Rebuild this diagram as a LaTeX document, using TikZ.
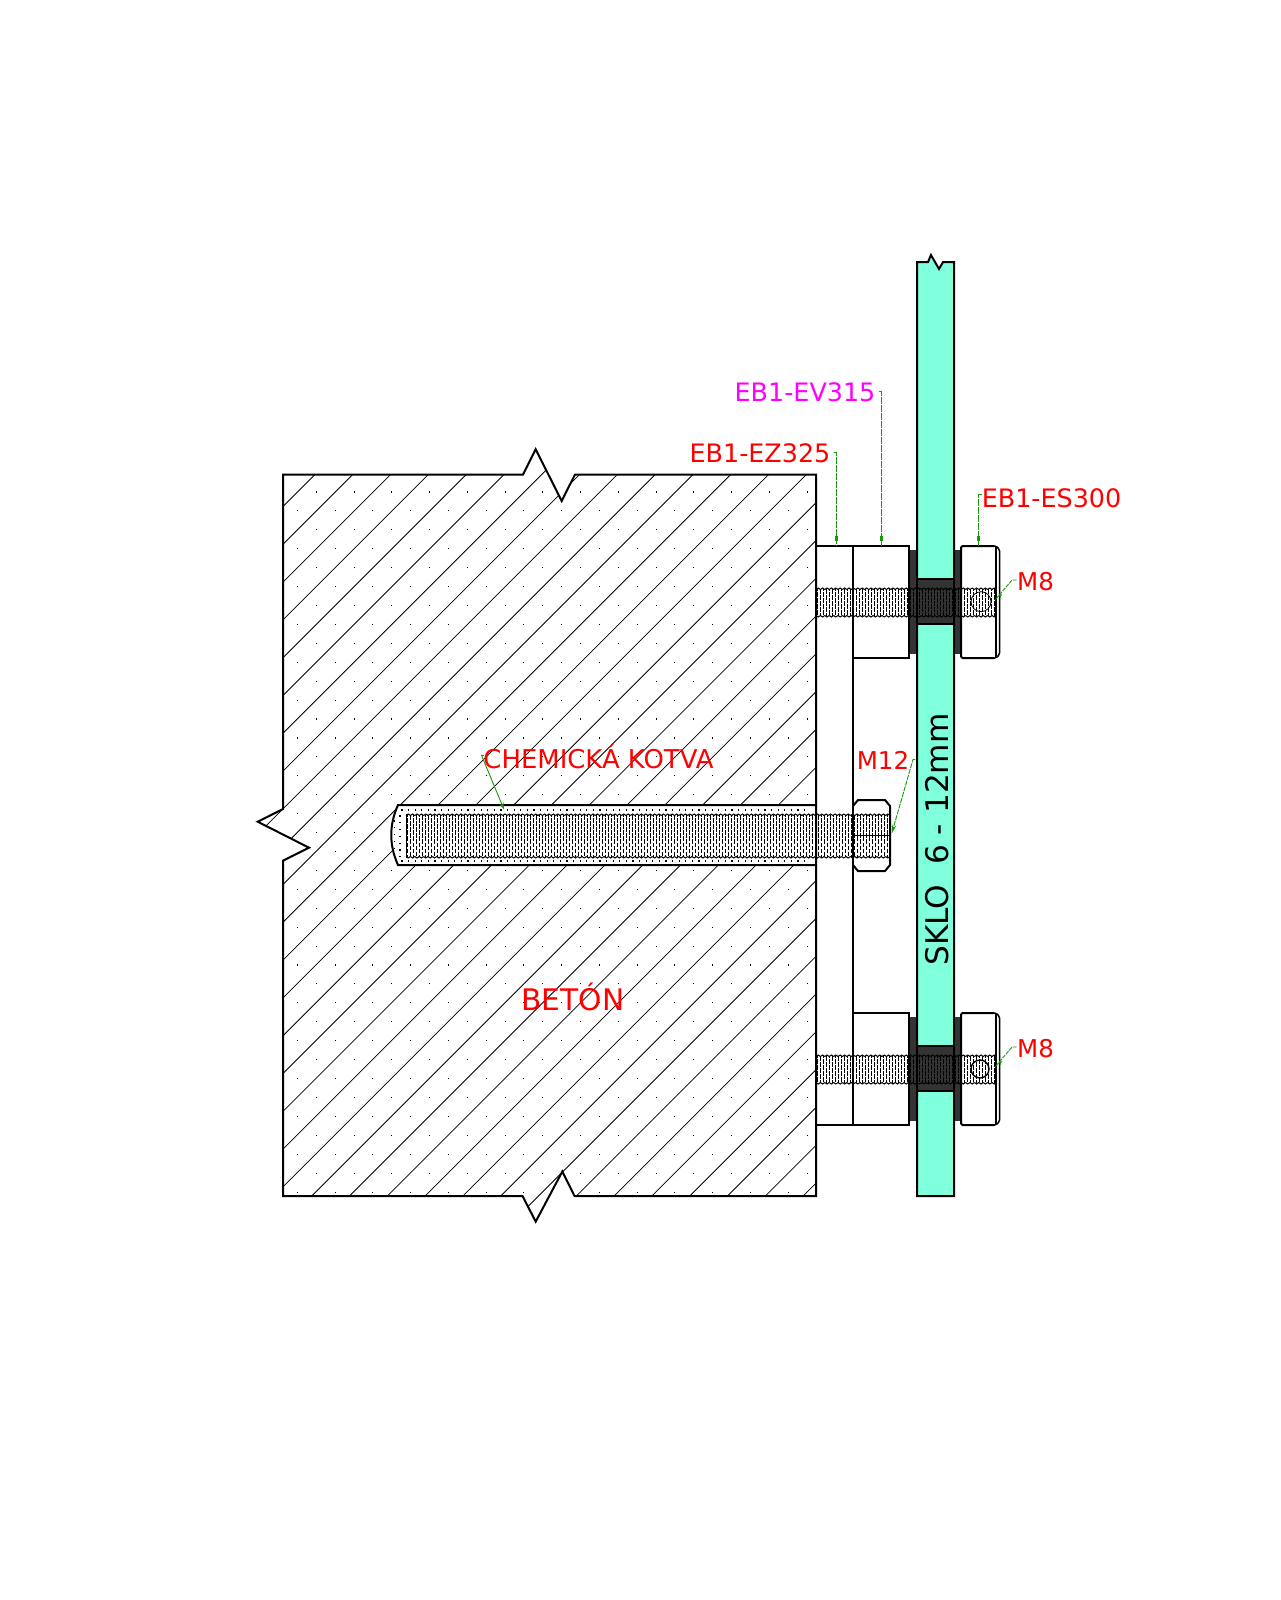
\documentclass[tikz,border=0pt]{standalone}
\usepackage{fontspec}
\setmainfont{DejaVu Sans}
\usetikzlibrary{arrows.meta,calc}
\definecolor{glass}{RGB}{127,255,219}
\definecolor{gasket}{RGB}{51,51,51}
\definecolor{leadgreen}{RGB}{20,155,5}
\definecolor{lblred}{RGB}{255,0,0}
\definecolor{lblmag}{RGB}{255,0,255}
\newcommand{\threadbar}[4]{%
  % #1 x start, #2 x end, #3 y top, #4 y bottom
  \pgfmathsetmacro{\thA}{#1+1.5}
  \pgfmathsetmacro{\thB}{#1+4.5}
  \pgfmathsetmacro{\thC}{#2-1}
  \foreach \tx in {\thA,\thB,...,\thC}{
    \pgfmathtruncatemacro{\tph}{mod(round((\tx-#1)/3),2)}
    \ifnum\tph=0
      \draw[threadline,dash pattern=on 4.6pt off 1.5pt] (\tx,#3+1) -- (\tx,#4-1);
    \else
      \draw[threadline,dash pattern=on 4.6pt off 1.5pt,dash phase=3pt] (\tx,#3+1) -- (\tx,#4-1);
    \fi
  }
  \pgfmathsetmacro{\thD}{#1+4.4}
  \pgfmathsetmacro{\thE}{#2-4}
  \foreach \tx in {#1,\thD,...,\thE}{
    \draw[threadedge] (\tx,#3+1.5) -- (\tx+2.2,#3) -- (\tx+4.4,#3+1.5);
    \draw[threadedge] (\tx,#4-1.5) -- (\tx+2.2,#4) -- (\tx+4.4,#4-1.5);
  }
}
\tikzset{
  outline/.style={draw=black,line width=2pt,line join=miter},
  thinline/.style={draw=black,line width=.8pt},
  hatchline/.style={draw=black,line width=.8pt},
  threadline/.style={draw=black,line width=.85pt},
  threadedge/.style={draw=black,line width=1pt},
  leader/.style={draw=leadgreen,line width=.9pt,dash pattern=on 7pt off 1pt},
  leadtip/.style={draw=leadgreen,line width=.9pt,-{Stealth[length=9pt,width=4.5pt,fill=leadgreen]}},
  tag/.style={inner sep=0pt,text=lblred,font=\fontsize{24.5}{26}\selectfont},
  tagwide/.style={tag,font=\fontsize{25.4}{27}\selectfont},
  tagmag/.style={tagwide,text=lblmag},
}
\begin{document}
\begin{tikzpicture}[x=1pt,y=-1pt]
\useasboundingbox (0,0) rectangle (1280,1600);
\fill[white] (0,0) rectangle (1280,1600);

% --- concrete block ---
\def\concrete{(283,474.5) -- (523,474.5) -- (535.7,449.3) -- (561.7,501) -- (575,474.5) -- (816,474.5) -- (816,1196) -- (574.5,1196) -- (562.3,1171.5) -- (535.7,1221.6) -- (522.5,1196) -- (283,1196) -- (283,860.7) -- (309,847.7) -- (257.7,821.7) -- (283,809) -- cycle}
\begin{scope}
  \clip \concrete;
  \foreach \k in {-3,...,33}{
    \pgfmathsetmacro{\cc}{789.5+37.8*\k}
    \draw[hatchline] (240,\cc-240) -- (830,\cc-830);
  }
  \foreach \j in {0,...,38}{
    \pgfmathsetmacro{\dy}{492+18.92*\j}
    \pgfmathtruncatemacro{\odd}{mod(\j,2)}
    \pgfmathsetmacro{\dx}{\odd==0 ? 278.55 : 297.3}
    \foreach \i in {0,...,14}{
      \fill[black] (\dx+37.75*\i-.55,\dy-.55) rectangle ++(1.1,1.1);
    }
  }
\end{scope}
\draw[outline] \concrete;

% --- anchor hole ---
\fill[white] (398,805) .. controls (389,825) and (389,845) .. (398,865) -- (816,865) -- (816,805) -- cycle;
\draw[outline] (816,805) -- (398,805) .. controls (389,825) and (389,845) .. (398,865) -- (816,865);
\foreach \i in {0,...,61}{
  \fill[black] (402+6.6*\i-.55,810-.55) rectangle ++(1.1,1.1);
  \fill[black] (402+6.6*\i-.55,861-.55) rectangle ++(1.1,1.1);
}
\foreach \i in {0,...,6}{
  \fill[black] (400-.55,816+6.8*\i-.55) rectangle ++(1.1,1.1);
}
\foreach \i in {0,...,4}{
  \fill[black] (394.5-.55,821+6.8*\i-.55) rectangle ++(1.1,1.1);
}

% --- glass ---
\fill[glass] (917,262) -- (928,262) -- (931,255) -- (939,269) -- (943,262) -- (954,262) -- (954,1196) -- (917,1196) -- cycle;
\draw[outline] (917,262) -- (928,262) -- (931,255) -- (939,269) -- (943,262) -- (954,262) -- (954,1196) -- (917,1196) -- cycle;

% --- spacers ---
\draw[outline] (816,546) -- (909,546) -- (909,658) -- (853,658);
\draw[outline] (816,1125) -- (909,1125) -- (909,1013) -- (853,1013);
\draw[outline] (853,546) -- (853,1125);
\draw[outline] (816,546) -- (816,1125);

% --- gaskets, glass insert, caps for both fixings ---
\foreach \dy in {0,467}{
  \begin{scope}[yshift=-\dy pt]
    \fill[gasket] (909.8,550) rectangle (917,654);
    \fill[gasket] (954,550) rectangle (960,654);
    \fill[gasket,draw=black,line width=1.6pt] (917,579) rectangle (954,624);
    \draw[outline] (917,550) -- (917,654);
    \draw[outline] (954,550) -- (954,654);
    \fill[white] (961,546) -- (996,546) -- (999.5,549.5) -- (999.5,654.5) -- (996,658) -- (961,658) -- cycle;
    \draw[outline,rounded corners=1.5pt] (994,546) -- (961,546) -- (961,658) -- (994,658);
    \draw[outline,line width=1.5pt,rounded corners=1.5pt] (994,546) -- (996,546) -- (999.5,549.5) -- (999.5,654.5) -- (996,658) -- (994,658);
    \draw[line width=1.2pt] (996,546) -- (996,658);
    \threadbar{816}{996}{588}{617}
    \draw[line width=1.3pt] (853,588) -- (853,617);
    \draw[line width=1.3pt] (816,588) -- (816,617);
  \end{scope}
}
\draw[thinline] (981,601.7) circle (10);
\draw[draw=black,line width=1.4pt] (980,1069) circle (9);

% --- anchor rod ---
\threadbar{406}{890}{814}{858}
\draw[line width=1pt] (406,814) -- (406,858);
\draw[outline] (816,805) -- (816,814) (816,858) -- (816,865);

% --- nut ---
\draw[outline] (853,806) -- (858,800) -- (885,800) -- (890,806) -- (890,865) -- (885,871) -- (858,871) -- (853,865);
\draw[line width=1pt] (853,835) -- (890,835);

% --- labels ---
\node[tagmag,anchor=center] (ev) at (805,392) {EB1-EV315};
\node[tagwide,anchor=center] (ez) at (760,453) {EB1-EZ325};
\node[tagwide,anchor=center] (es) at (1051.5,498) {EB1-ES300};
\node[tag,anchor=center] (m8a) at (1035.5,582) {M8};
\node[tag,anchor=center] (m8b) at (1035.5,1049) {M8};
\node[tag,anchor=center,font=\fontsize{25.9}{27}\selectfont] (chem) at (598.5,757) {CHEMICKÁ KOTVA};
\node[tag,anchor=center] (m12) at (883,760) {M12};
\node[tag,anchor=center,font=\fontsize{29.7}{31}\selectfont] (beton) at (573,997) {BETÓN};
\node[inner sep=0pt,rotate=90,text=black,font=\fontsize{31.2}{33}\selectfont] (sklo) at (937,839.5) {SKLO\ \ 6 - 12mm};

% --- leaders ---
\coordinate (evt) at (881.5,546);
\coordinate (ezt) at (836.7,546);
\coordinate (est) at (978.3,546);
\coordinate (m8at) at (995,600);
\coordinate (m8bt) at (995,1067);
\coordinate (chemt) at (504,809.5);
\coordinate (m12t) at (891.7,833.5);

\draw[leader] (879,391) -- (881.5,391) -- (evt);
\fill[leadgreen] (880,536) rectangle (883,541);
\draw[leader] (834,452) -- (836.7,452) -- (ezt);
\fill[leadgreen] (835.2,536) rectangle (838.2,541);
\draw[leader] (981.7,494) -- (978.3,494) -- (est);
\fill[leadgreen] (976.8,536) rectangle (979.8,541);
\draw[leader,dash pattern=on 4pt off 1pt] (1016.5,580) -- (1012,580) -- (m8at);
\draw[leader,dash pattern=on 4pt off 1pt] (1016.5,1047) -- (1012,1047) -- (m8bt);
\fill[leadgreen] ($(m8at)+(4,-4.5)$) -- ($(m8at)+(7,-6)$) -- ($(m8at)+(5.5,-2)$) -- cycle;
\fill[leadgreen] ($(m8bt)+(4,-4.5)$) -- ($(m8bt)+(7,-6)$) -- ($(m8bt)+(5.5,-2)$) -- cycle;
\draw[leadtip,-{Stealth[length=7pt,width=4.5pt,fill=leadgreen]}] (484,755.3) -- (481.5,755.3) -- (chemt);
\draw[leadtip,dash pattern=on 5pt off 1pt] (915,759.5) -- (913,759.5) -- (m12t);
\end{tikzpicture}
\end{document}
